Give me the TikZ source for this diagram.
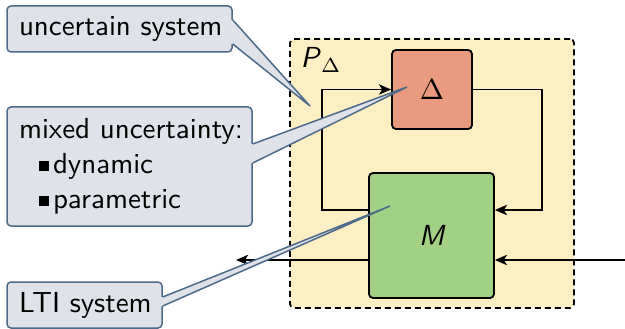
\documentclass[tikz,border=0pt]{standalone}
\usetikzlibrary{arrows.meta,calc}
\newlength{\upx}\setlength{\upx}{0.345pt}
\definecolor{framefill}{HTML}{FDEFC4}
\definecolor{deltafill}{HTML}{E99A80}
\definecolor{mfill}{HTML}{A2D186}
\definecolor{cofill}{HTML}{DFE3E9}
\definecolor{coline}{HTML}{4D6A89}
\newcommand{\dchar}{{\usefont{OT1}{lmss}{m}{n}\char1}}
\begin{document}
\begin{tikzpicture}[x=0.345pt,y=-0.345pt,
  font=\sffamily\fontsize{10}{12}\selectfont,
  blk/.style={draw=black, line width=1.8\upx, rounded corners=4\upx, inner sep=0pt},
  arr/.style={line width=1.8\upx, -{Stealth[length=4.2pt,width=3.6pt,inset=1.1pt]}},
  cobox/.style={draw=coline, fill=cofill, line width=1.5\upx, rounded corners=4\upx,
    align=left, inner xsep=12\upx, inner ysep=0pt},
  coptr/.style={draw=coline, line width=1.5\upx, line join=miter}]
\useasboundingbox (0,0) rectangle (625,329);
% frame
\node[draw=black, fill=framefill, line width=1.8\upx, dash pattern=on 6\upx off 4\upx,
  rounded corners=4\upx, minimum width=284\upx, minimum height=269\upx, inner sep=0pt]
  (frame) at (432,173.5) {};
\node[anchor=base west, inner sep=0pt] (plabel) at (300,68)
  {\itshape P\/\raisebox{-1.5pt}{\scriptsize\dchar}};
% blocks
\node[blk, fill=deltafill, minimum width=80\upx, minimum height=79\upx] (delta) at (432,89.5) {\dchar};
\node[blk, fill=mfill, minimum width=125\upx, minimum height=125\upx] (M) at (431.5,235.5) {\itshape M};
% connectors
\coordinate (mwl) at ($(M.west)+(0,-25.5)$);
\coordinate (mel) at ($(M.east)+(0,-25.5)$);
\draw[arr] (mwl) -- ++(-46,0) |- (delta.west);
\draw[arr] (delta.east) -- ++(69,0) |- (mel);
\coordinate (inp) at (625,260);
\coordinate (outp) at (236,260);
\draw[arr] (inp) -- (inp -| M.east);
\draw[arr] (outp -| M.west) -- (outp);
% callouts
\node[cobox, text width=201\upx, minimum height=46\upx] (unc) at (119.5,29) {\mbox{uncertain system}};
\node[cobox, text width=221\upx, minimum height=119\upx] (mix) at (129.5,166.5)
  {\mbox{mixed uncertainty:}\\
   \mbox{\hspace*{20\upx}\rule[3\upx]{10\upx}{10\upx}\hspace{4\upx}dynamic}\\
   \mbox{\hspace*{20\upx}\rule[3\upx]{10\upx}{10\upx}\hspace{4\upx}parametric}};
\node[cobox, text width=131\upx, minimum height=46\upx] (lti) at (84.5,305) {\mbox{LTI system}};
\coordinate (t1) at (310,106);
\coordinate (t2) at (407,87);
\coordinate (t3) at (390,206);
% pointer: uncertain system
\fill[cofill] ($(unc.east)+(0,-9)$) -- (t1) -- ($(unc.east)+(0,15)$) -- ($(unc.east)+(-2,15)$) -- ($(unc.east)+(-2,-9)$) -- cycle;
\draw[coptr] ($(unc.east)+(0,-9)$) -- (t1) -- ($(unc.east)+(0,15)$);
% pointer: mixed uncertainty
\fill[cofill] ($(mix.east)+(0,-22.5)$) -- (t2) -- ($(mix.east)+(0,-3.5)$) -- ($(mix.east)+(-2,-3.5)$) -- ($(mix.east)+(-2,-22.5)$) -- cycle;
\draw[coptr] ($(mix.east)+(0,-22.5)$) -- (t2) -- ($(mix.east)+(0,-3.5)$);
% pointer: LTI system
\fill[cofill] ($(lti.east)+(0,-8)$) -- (t3) -- ($(lti.east)+(0,1)$) -- ($(lti.east)+(-2,1)$) -- ($(lti.east)+(-2,-8)$) -- cycle;
\draw[coptr] ($(lti.east)+(0,-8)$) -- (t3) -- ($(lti.east)+(0,1)$);
\end{tikzpicture}
\end{document}
